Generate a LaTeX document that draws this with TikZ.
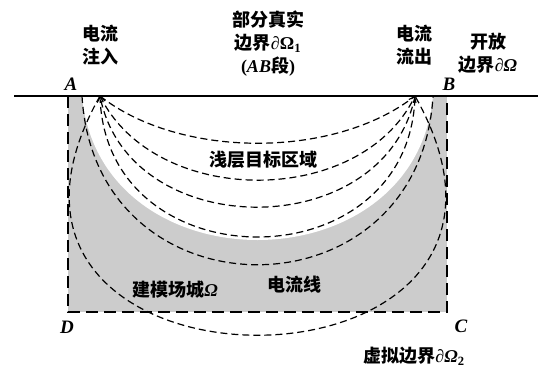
\documentclass[tikz,border=0pt]{standalone}
\usepackage{fontspec}
\setmainfont{Liberation Serif}
\newfontfamily\cjk{Noto Sans CJK SC}
\usetikzlibrary{arrows.meta}
\newcommand\latn[1]{{\rmfamily\bfseries #1}}
\begin{document}
\begin{tikzpicture}[x=1pt,y=-1pt,
  lbl/.style={font=\cjk\bfseries\fontsize{18}{23}\selectfont, align=center, inner sep=0pt},
  ptlbl/.style={font=\rmfamily\bfseries\itshape\fontsize{19}{20}\selectfont, inner sep=0pt},
  cline/.style={dash pattern=on 7pt off 4pt, line width=1.2pt},
  bnd/.style={dash pattern=on 12pt off 6pt, line width=2pt},
  tip/.style={-{Straight Barb[length=5pt,width=8pt,line width=1.1pt]}}]
\useasboundingbox (0,0) rectangle (538,370);
% region
\coordinate (A) at (68,96);
\coordinate (B) at (447,96);
\coordinate (C) at (447,312);
\coordinate (D) at (68,312);
\coordinate (P1) at (100,96);
\coordinate (P2) at (415,96);
\coordinate (W1) at (82,96);
\coordinate (W2) at (433,96);
\fill[black!20] (A) rectangle (C);
\fill[white] (W1) .. controls (100,288) and (415,288) .. (W2) -- cycle;
% boundary
\draw[bnd] (A) -- (D) -- (C) -- (B);
\draw[line width=1.5pt] (14,96) -- (538,96);
% current lines
\draw[cline] (P1) .. controls (180,159) and (335,159) .. (P2);
\draw[cline,tip] (P1) .. controls (155,208) and (360,208) .. (P2);
\draw[cline,tip] (P2) .. controls (385,244) and (130,244) .. (P1);
\draw[cline] (P1) .. controls (105,284) and (410,284) .. (P2);
\draw[cline] (W1) .. controls (95,321) and (420,321) .. (W2);
\draw[cline] (P1) .. controls (-80,415) and (595,415) .. (P2);
% labels
\node[lbl] (inj) at (100,45.5) {电流\\注入};
\node[lbl] (real) at (268,44) {部分真实\\边界\latn{∂Ω\textsubscript{1}}\\\latn{(\textit{AB}}段\latn{)}};
\node[lbl] (outl) at (414,45.5) {电流\\流出};
\node[lbl] (open) at (488,53) {开放\\边界\latn{∂\textit{Ω}}};
\node[ptlbl] (la) at (71,84) {A};
\node[ptlbl] (lb) at (449,84) {B};
\node[ptlbl] (lc) at (461,326) {C};
\node[ptlbl] (ld) at (67,327) {D};
\node[lbl] (virt) at (414,356) {虚拟边界\latn{∂\textit{Ω}\textsubscript{2}}};
\node[lbl] (shal) at (263,160) {浅层目标区域};
\node[lbl] (model) at (175,290) {建模场城\latn{\textit{Ω}}};
\node[lbl] (curl) at (294,285) {电流线};
\end{tikzpicture}
\end{document}
